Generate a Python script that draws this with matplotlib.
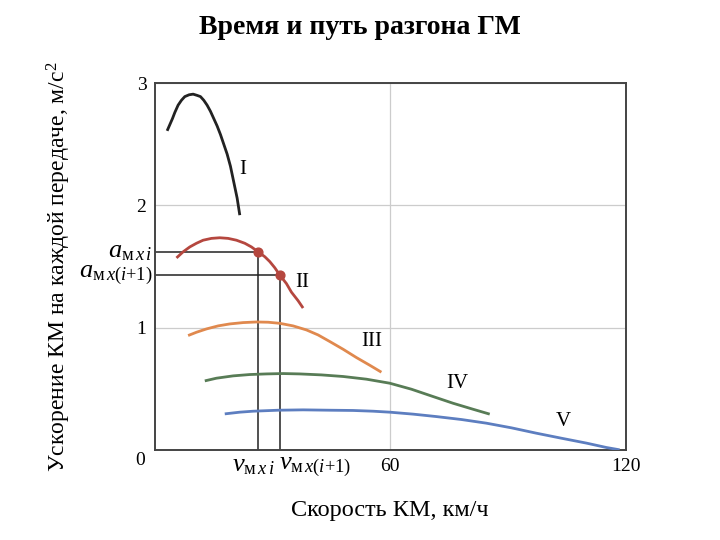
import matplotlib
matplotlib.use("Agg")
import matplotlib.pyplot as plt

plt.rcParams['font.family'] = ['Liberation Serif', 'DejaVu Serif']
plt.rcParams['mathtext.fontset'] = 'custom'
plt.rcParams['mathtext.rm'] = 'Liberation Serif'
plt.rcParams['mathtext.it'] = 'Liberation Serif:italic'

# values: speed (km/h), acceleration (m/s^2)
v_1 = [3.14, 3.82, 4.50, 5.10, 5.94, 6.79, 7.64, 8.75, 9.77, 10.78, 11.64, 12.48,
       13.33, 14.18, 15.03, 15.88, 16.73, 17.58, 18.43, 19.28, 20.13, 20.98, 21.66]
a_1 = [2.61, 2.66, 2.71, 2.76, 2.82, 2.86, 2.89, 2.905, 2.91, 2.90, 2.89, 2.86,
       2.82, 2.77, 2.71, 2.65, 2.58, 2.50, 2.42, 2.32, 2.19, 2.06, 1.92]
v_2 = [5.52, 7.22, 8.92, 10.62, 12.31, 14.44, 16.56, 18.68, 20.81, 22.93,
       24.63, 26.33, 28.03, 29.30, 30.57, 31.85, 33.55, 34.82, 36.52, 37.79]
a_2 = [1.57, 1.62, 1.66, 1.69, 1.715, 1.73, 1.735, 1.73, 1.715, 1.69,
       1.66, 1.62, 1.58, 1.54, 1.49, 1.43, 1.36, 1.29, 1.22, 1.16]
v_3 = [8.49, 10.62, 13.16, 16.14, 19.11, 22.51, 25.90, 28.88, 31.85,
       35.24, 38.64, 41.61, 44.59, 47.98, 51.38, 54.78, 57.75]
a_3 = [0.935, 0.962, 0.989, 1.014, 1.030, 1.041, 1.046, 1.044, 1.035,
       1.014, 0.981, 0.940, 0.886, 0.823, 0.755, 0.692, 0.635]
v_4 = [12.74, 15.71, 19.96, 24.20, 28.45, 32.70, 36.94, 42.46,
       47.98, 53.92, 59.87, 65.39, 70.91, 76.01, 81.10, 85.35]
a_4 = [0.564, 0.586, 0.605, 0.616, 0.621, 0.624, 0.621, 0.613,
       0.600, 0.578, 0.545, 0.496, 0.436, 0.381, 0.332, 0.292]
v_5 = [17.83, 21.66, 25.05, 31.42, 37.79, 44.59, 50.53, 55.63, 59.87, 65.82,
       71.76, 78.13, 84.50, 90.87, 97.24, 103.61, 109.98, 115.08, 118.47]
a_5 = [0.294, 0.308, 0.316, 0.324, 0.327, 0.324, 0.322, 0.316, 0.308, 0.292,
       0.272, 0.248, 0.218, 0.180, 0.136, 0.095, 0.055, 0.019, 0.0]

gear_names = ['I', 'II', 'III', 'IV', 'V']
gear_label_v = [22.4, 37.5, 55.3, 77.0, 104.0]
gear_label_a = [2.29, 1.37, 0.89, 0.54, 0.23]
colors = ['#222222', '#b5473f', '#e0894e', '#587c56', '#5d7ec0']

# shift points on gear II
v_shift = [26.33, 31.85]
a_shift = [1.62, 1.43]

fig = plt.figure(figsize=(7.2, 5.4), dpi=100)
ax = fig.add_axes([0.215, 0.167, 0.654, 0.679])

curves = [(v_1, a_1), (v_2, a_2), (v_3, a_3), (v_4, a_4), (v_5, a_5)]
for (v, a), c in zip(curves, colors):
    ax.plot(v, a, color=c, lw=2.0, solid_capstyle='butt', solid_joinstyle='round', zorder=3)

for name, x, y in zip(gear_names, gear_label_v, gear_label_a):
    ax.text(x, y, name, fontsize=15, ha='center', va='center')

# guide lines to the axes
for v, a in zip(v_shift, a_shift):
    ax.plot([0, v], [a, a], color='#222222', lw=1.1, zorder=2)
    ax.plot([v, v], [0, a], color='#222222', lw=1.1, zorder=2)
ax.scatter(v_shift, a_shift, s=40, color=colors[1], zorder=4)

ax.set_xlim(0, 120)
ax.set_ylim(0, 3)
ax.set_xticks([60, 120])
ax.set_yticks([1, 2, 3])
ax.tick_params(length=0, labelsize=14, pad=6)
ax.grid(True, color='#cccccc', lw=0.9)
ax.set_axisbelow(True)
for s in ax.spines.values():
    s.set_color('#444444')
    s.set_linewidth(1.4)

ax.text(-0.02, -0.005, '0', transform=ax.transAxes, fontsize=14,
        ha='right', va='top')

# symbol labels at the shift points
ax.text(-0.005, a_shift[0], r'$a_{\mathrm{м}\,x\,i}$', transform=ax.get_yaxis_transform(),
        fontsize=19, ha='right', va='center')
ax.text(-0.005, a_shift[1], r'$a_{\mathrm{м}\,x(i{+}1)}$', transform=ax.get_yaxis_transform(),
        fontsize=19, ha='right', va='center')
ax.text(v_shift[1] - 1.3, -0.015, r'$v_{\mathrm{м}\,x\,i}$', transform=ax.get_xaxis_transform(),
        fontsize=19, ha='right', va='top')
ax.text(v_shift[1] - 0.3, -0.015, r'$v_{\mathrm{м}\,x(i{+}1)}$', transform=ax.get_xaxis_transform(),
        fontsize=19, ha='left', va='top')

ax.set_xlabel('Скорость КМ, км/ч', fontsize=17.5, labelpad=18)
ax.set_ylabel('Ускорение КМ на каждой передаче, м/с$^2$', fontsize=17, labelpad=46)

fig.suptitle('Время и путь разгона ГМ', fontsize=20, fontweight='bold', y=0.972)

fig.savefig('out.png', dpi=100)
